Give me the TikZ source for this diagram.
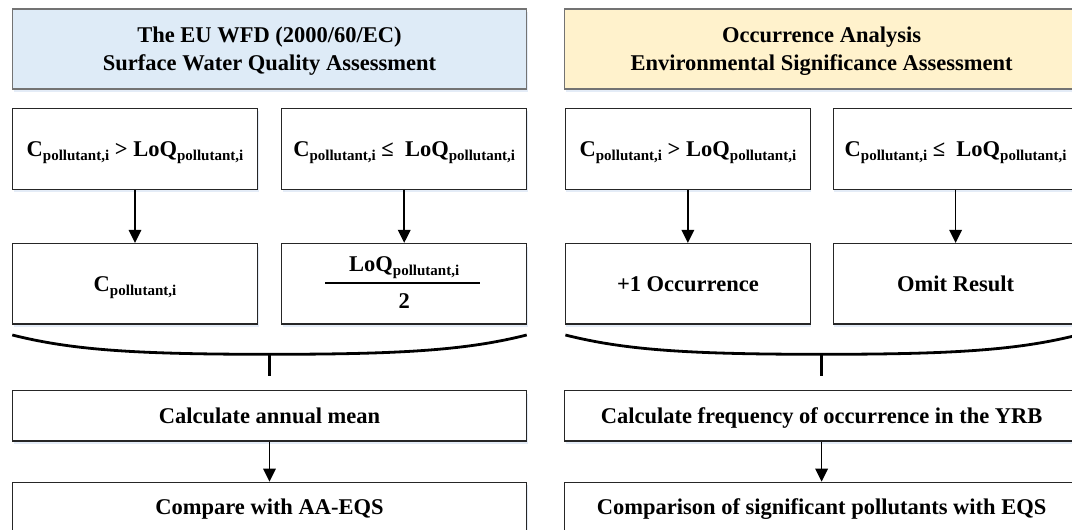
\documentclass[tikz,border=0pt]{standalone}
\usepackage{fontspec}
\setmainfont{Liberation Serif}
\usetikzlibrary{arrows.meta,shadows}

\definecolor{wfdblue}{RGB}{222,235,247}
\definecolor{occyellow}{RGB}{255,242,204}
\definecolor{glow}{RGB}{228,236,247}

% subscripted quantities
\newcommand{\psub}[1]{\raisebox{-4.5pt}{\fontsize{15}{16}\selectfont #1}}
\newcommand{\Cpol}{C\psub{pollutant,i}}
\newcommand{\LoQpol}{LoQ\psub{pollutant,i}}
\newcommand{\twolines}[2]{\begin{tabular}[b]{@{}c@{}}#1\\#2\end{tabular}}

\begin{document}
\begin{tikzpicture}[x=1pt,y=-1pt,
  every node/.style={font=\fontsize{22.5}{28}\selectfont\bfseries, inner sep=0pt, align=center},
  boxbase/.style={draw=black!85, line width=1.2pt, fill=white,
    general shadow={fill=glow, shadow xshift=1pt, shadow yshift=-3pt},
    text height=14.9pt, text depth=0pt},
  headbox/.style={boxbase, draw=black!55, minimum width=514pt, minimum height=80pt,
    text height=42.9pt, text depth=0pt},
  halfbox/.style={boxbase, minimum width=245pt},
  widebox/.style={boxbase, minimum width=514pt, minimum height=50.3pt},
  flow/.style={-{Triangle[width=12.5pt,length=13pt]}, line width=1.7pt},
  bracket/.style={line width=2.8pt, line cap=butt},
  stem/.style={line width=2.4pt},
  fracbar/.style={line width=2pt},
]
\useasboundingbox (0,0) rectangle (1072,530);
\clip (0,0) rectangle (1072,530);

% ---------------- left column: WFD assessment ----------------
\node[headbox, fill=wfdblue] (hdrL) at (269.5,49)
  {\twolines{The EU WFD (2000/60/EC)}{Surface Water Quality Assessment}};
\node[halfbox, minimum height=81pt] (a1) at (135,148.8) {\Cpol{} > \LoQpol};
\node[halfbox, minimum height=81pt] (a2) at (404.2,148.8) {\Cpol{} ≤\hspace{0.5em}\LoQpol};
\node[halfbox, minimum height=80.5pt] (b1) at (135,283.75) {\Cpol};
\node[halfbox, minimum height=80.5pt] (b2) at (404.2,283.75) {};
\node[anchor=base] (b2num) at (404.2,271) {\LoQpol};
\node[anchor=base] (b2den) at (404.2,308.3) {2};
\draw[fracbar] (325,283.3) -- (480,283.3);

\draw[flow] (a1) -- (b1);
\draw[flow] (a2) -- (b2);

\coordinate (brL) at (269.5,354.3);
\coordinate (stL) at (269.5,376);
\draw[bracket] (12.3,335) .. controls (72,350) and (135,354.3) .. (brL)
  .. controls (404,354.3) and (467,350) .. (526.7,335);
\draw[stem] (brL) -- (stL);

\node[widebox] (meanL) at (269.5,415.85) {Calculate annual mean};
\node[widebox, minimum height=50pt] (cmpL) at (269.5,507.3) {Compare with AA-EQS};
\draw[flow] (meanL) -- (cmpL);

% ---------------- right column: occurrence analysis ----------------
\node[headbox, fill=occyellow] (hdrR) at (821.6,49)
  {\twolines{Occurrence Analysis}{Environmental Significance Assessment}};
\node[halfbox, minimum height=81pt] (c1) at (687.9,148.8) {\Cpol{} > \LoQpol};
\node[halfbox, minimum height=81pt] (c2) at (955.6,148.8) {\Cpol{} ≤\hspace{0.5em}\LoQpol};
\node[halfbox, minimum height=80.5pt] (d1) at (687.9,283.75) {+1 Occurrence};
\node[halfbox, minimum height=80.5pt] (d2) at (955.6,283.75) {Omit Result};

\draw[flow] (c1) -- (d1);
\draw[flow] (c2) -- (d2);

\coordinate (brR) at (821.6,354.3);
\coordinate (stR) at (821.6,376);
\draw[bracket] (565.4,335) .. controls (625,350) and (688,354.3) .. (brR)
  .. controls (955,354.3) and (1018,350) .. (1077.8,335);
\draw[stem] (brR) -- (stR);

\node[widebox] (freqR) at (821.6,415.85) {Calculate frequency of occurrence in the YRB};
\node[widebox, minimum height=50pt] (cmpR) at (821.6,507.3) {Comparison of significant pollutants with EQS};
\draw[flow] (freqR) -- (cmpR);
\end{tikzpicture}
\end{document}
